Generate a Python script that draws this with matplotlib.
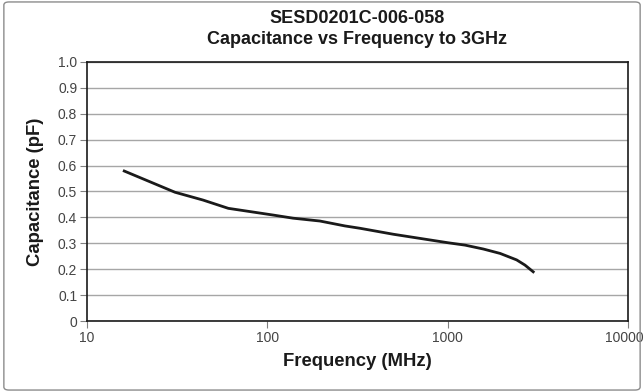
import numpy as np
import matplotlib.pyplot as plt
from matplotlib.ticker import FixedLocator, FixedFormatter
from matplotlib.patches import FancyBboxPatch
import matplotlib.transforms as mtransforms

# Values
freq_mhz = [16.1, 30.8, 44, 60.8, 108, 139, 196, 270, 327, 500, 1009, 1250, 1578, 1955, 2415, 2686, 2985]
cap_pf = [0.579, 0.497, 0.467, 0.435, 0.409, 0.397, 0.386, 0.367, 0.358, 0.335, 0.302, 0.293, 0.278, 0.261, 0.236, 0.216, 0.190]

y_ticks = [0, 0.1, 0.2, 0.3, 0.4, 0.5, 0.6, 0.7, 0.8, 0.9, 1.0]
y_labels = ["0", "0.1", "0.2", "0.3", "0.4", "0.5", "0.6", "0.7", "0.8", "0.9", "1.0"]
x_ticks = [10, 100, 1000, 10000]
x_labels = ["10", "100", "1000", "10000"]

plt.rcParams['font.family'] = ['Liberation Sans', 'DejaVu Sans']

fig = plt.figure(figsize=(6.44, 3.92), dpi=100)
ax = fig.add_axes([0.135, 0.181, 0.840, 0.661])

# grey outer frame round the whole figure
frame = FancyBboxPatch((0.006, 0.005), 0.988, 0.99, boxstyle="round,pad=0,rounding_size=0.008",
                       transform=fig.transFigure, facecolor='none', edgecolor='#8c8c8c', linewidth=1.0)
fig.patches.append(frame)

ax.plot(freq_mhz, cap_pf, color='#1a1a1a', linewidth=2.0, zorder=3)

ax.set_xscale('log')
ax.set_xlim(10, 10000)
ax.set_ylim(0, 1.0)
ax.xaxis.set_major_locator(FixedLocator(x_ticks))
ax.xaxis.set_major_formatter(FixedFormatter(x_labels))
ax.xaxis.set_minor_locator(FixedLocator([]))
ax.yaxis.set_major_locator(FixedLocator(y_ticks))
ax.yaxis.set_major_formatter(FixedFormatter(y_labels))

ax.grid(axis='y', color='#a6a6a6', linewidth=1.0)
ax.set_axisbelow(True)
for s in ax.spines.values():
    s.set_color('#1a1a1a')
    s.set_linewidth(1.2)

ax.tick_params(axis='both', direction='out', length=5, width=0.8, color='#808080',
               labelsize=10, labelcolor='#444444', pad=2)

# nudge the last x label so it stays inside the frame
fig.canvas.draw()
last = ax.get_xticklabels()[-1]
last.set_transform(last.get_transform() + mtransforms.ScaledTranslation(-4 / 100, 0, fig.dpi_scale_trans))

ax.set_xlabel("Frequency (MHz)", fontsize=13.3, fontweight='bold', color='#1a1a1a', labelpad=6)
ax.set_ylabel("Capacitance (pF)", fontsize=13.3, fontweight='bold', color='#1a1a1a', labelpad=10)

fig.text(0.555, 0.952, "SESD0201C-006-058", ha='center', va='center',
         fontsize=13, fontweight='bold', color='#1a1a1a')
fig.text(0.555, 0.898, "Capacitance vs Frequency to 3GHz", ha='center', va='center',
         fontsize=13, fontweight='bold', color='#1a1a1a')

fig.savefig("out.png", dpi=100)
